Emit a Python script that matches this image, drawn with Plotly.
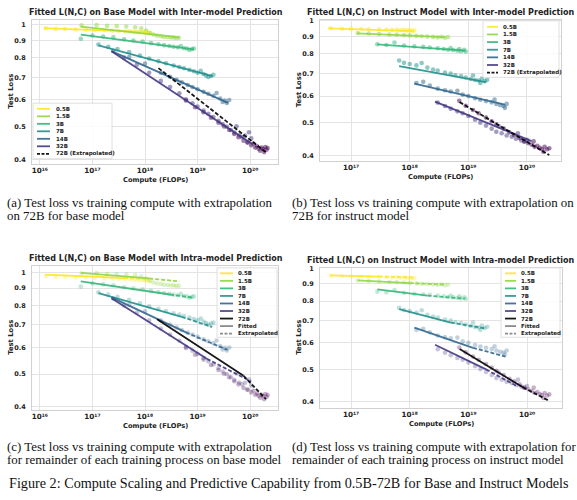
import plotly.graph_objects as go

W, H = 577, 500

models = ["0.5B", "1.5B", "3B", "7B", "14B", "32B", "72B"]
colors = ["#fde725", "#90d743", "#35b779", "#21918c", "#31688e", "#443983", "#440154"]

# ---------------- Base model observations (panels a, c) ----------------
b05_C = [1.3e16, 2.0e16, 3.0e16, 4.8e16, 7.5e16, 1.1e17, 1.7e17, 2.4e17, 3.2e17, 4.2e17, 5.2e17, 6.2e17, 7.2e17, 8.2e17, 9.2e17, 1.02e18, 1.12e18, 1.2e18]
b05_L = [0.976, 0.972, 0.973, 0.969, 0.968, 0.965, 0.964, 0.961, 0.959, 0.956, 0.957, 0.953, 0.954, 0.951, 0.952, 0.948, 0.950, 0.946]
b15_C = [6.2e16, 1.2e17, 1.9e17, 2.9e17, 4.4e17, 6.5e17, 8.5e17, 1.05e18, 1.25e18, 1.45e18, 1.7e18, 2.0e18, 2.3e18, 2.7e18, 3.1e18, 3.5e18, 3.9e18, 4.4e18]
b15_L = [0.996, 0.998, 0.993, 0.991, 0.989, 0.984, 0.976, 0.962, 0.946, 0.936, 0.929, 0.926, 0.921, 0.920, 0.917, 0.918, 0.914, 0.916]
b3_C = [6.0e16, 1.0e17, 1.6e17, 2.5e17, 4.0e17, 6.0e17, 9.0e17, 1.3e18, 1.8e18, 2.3e18, 2.9e18, 3.5e18, 4.2e18, 4.8e18, 5.5e18, 6.3e18, 7.0e18, 7.8e18, 8.5e18]
b3_L = [0.910, 0.930, 0.924, 0.918, 0.906, 0.899, 0.893, 0.884, 0.876, 0.871, 0.866, 0.861, 0.858, 0.866, 0.853, 0.851, 0.843, 0.848, 0.851]
b7_C = [1.3e17, 2.0e17, 3.0e17, 5.0e17, 8.0e17, 1.2e18, 1.8e18, 2.5e18, 3.5e18, 4.5e18, 5.5e18, 7.0e18, 8.5e18, 1.0e19, 1.15e19, 1.3e19, 1.45e19, 1.6e19, 1.8e19, 2.0e19]
b7_L = [0.875, 0.861, 0.848, 0.831, 0.812, 0.795, 0.781, 0.770, 0.758, 0.751, 0.744, 0.736, 0.729, 0.722, 0.731, 0.716, 0.709, 0.701, 0.706, 0.712]
b14_C = [2.5e17, 5.0e17, 1.0e18, 2.0e18, 3.0e18, 4.0e18, 5.0e18, 6.5e18, 8.0e18, 1.0e19, 1.3e19, 1.6e19, 2.0e19, 2.3e19, 2.7e19, 3.0e19, 3.3e19, 3.6e19, 4.0e19]
b14_L = [0.838, 0.803, 0.768, 0.722, 0.702, 0.688, 0.676, 0.664, 0.655, 0.645, 0.634, 0.626, 0.617, 0.629, 0.606, 0.592, 0.598, 0.588, 0.600]
b32_C = [4.0e17, 7.0e17, 1.2e18, 2.0e18, 3.0e18, 4.5e18, 6.0e18, 8.0e18, 1.0e19, 1.3e19, 1.6e19, 2.0e19, 2.5e19, 3.0e19, 3.6e19, 4.3e19, 5.0e19, 5.5e19, 6.2e19, 7.0e19, 8.0e19, 8.8e19, 9.5e19, 1.05e20]
b32_L = [0.800, 0.762, 0.722, 0.683, 0.655, 0.628, 0.603, 0.587, 0.574, 0.558, 0.546, 0.534, 0.521, 0.509, 0.500, 0.489, 0.481, 0.502, 0.472, 0.466, 0.471, 0.450, 0.482, 0.462]
b72_C = [6.0e18, 9.0e18, 1.3e19, 1.8e19, 2.5e19, 3.2e19, 4.0e19, 5.0e19, 6.0e19, 7.5e19, 9.0e19, 1.05e20, 1.15e20, 1.25e20, 1.35e20, 1.45e20, 1.55e20, 1.65e20, 1.75e20, 1.85e20, 1.95e20, 2.05e20, 2.15e20]
b72_L = [0.598, 0.571, 0.552, 0.532, 0.514, 0.501, 0.489, 0.476, 0.466, 0.455, 0.449, 0.441, 0.446, 0.434, 0.438, 0.431, 0.425, 0.434, 0.430, 0.421, 0.436, 0.428, 0.433]

# ---------------- Instruct model observations (panels b, d) ----------------
i05_C = [4.5e16, 7.0e16, 1.0e17, 1.5e17, 2.0e17, 3.0e17, 4.0e17, 5.0e17, 6.0e17, 7.0e17, 8.0e17, 9.0e17, 1.0e18, 1.1e18, 1.2e18]
i05_L = [0.951, 0.948, 0.947, 0.946, 0.944, 0.945, 0.942, 0.940, 0.943, 0.938, 0.941, 0.936, 0.939, 0.934, 0.937]
i15_C = [1.3e17, 2.0e17, 3.0e17, 4.5e17, 6.0e17, 8.0e17, 1.0e18, 1.3e18, 1.6e18, 2.0e18, 2.5e18, 3.0e18, 3.5e18, 4.0e18, 4.5e18]
i15_L = [0.921, 0.918, 0.915, 0.912, 0.911, 0.908, 0.906, 0.903, 0.901, 0.899, 0.897, 0.894, 0.898, 0.892, 0.896]
i3_C = [2.8e17, 4.0e17, 5.5e17, 8.0e17, 1.2e18, 1.7e18, 2.2e18, 3.0e18, 3.8e18, 4.5e18, 5.0e18, 5.5e18, 6.5e18, 7.0e18, 7.5e18, 8.5e18, 9.0e18]
i3_L = [0.853, 0.849, 0.863, 0.846, 0.841, 0.838, 0.835, 0.830, 0.826, 0.822, 0.831, 0.820, 0.817, 0.826, 0.814, 0.821, 0.812]
i7_C = [6.6e17, 8.0e17, 1.0e18, 1.3e18, 1.6e18, 2.0e18, 2.5e18, 3.0e18, 4.0e18, 5.0e18, 6.0e18, 7.5e18, 9.0e18, 1.1e19, 1.2e19, 1.3e19, 1.5e19, 1.6e19, 1.7e19, 1.9e19, 2.1e19]
i7_L = [0.764, 0.752, 0.746, 0.739, 0.751, 0.728, 0.719, 0.714, 0.704, 0.699, 0.691, 0.687, 0.681, 0.674, 0.690, 0.669, 0.667, 0.656, 0.676, 0.664, 0.670]
i14_C = [1.3e18, 1.7e18, 2.2e18, 3.0e18, 4.0e18, 5.0e18, 6.5e18, 8.0e18, 1.0e19, 1.3e19, 1.6e19, 2.0e19, 2.5e19, 2.8e19, 3.0e19, 3.5e19, 4.0e19, 4.2e19, 4.5e19]
i14_L = [0.656, 0.661, 0.645, 0.631, 0.624, 0.619, 0.622, 0.606, 0.600, 0.591, 0.585, 0.580, 0.575, 0.586, 0.569, 0.564, 0.561, 0.554, 0.569]
i32_C = [3.0e18, 4.0e18, 5.0e18, 6.5e18, 8.0e18, 1.0e19, 1.3e19, 1.6e19, 2.0e19, 2.5e19, 3.0e19, 3.3e19, 3.7e19, 4.5e19, 5.5e19, 6.5e19, 7.0e19, 8.0e19, 9.0e19, 1.0e20]
i32_L = [0.574, 0.561, 0.551, 0.541, 0.534, 0.524, 0.511, 0.501, 0.491, 0.481, 0.471, 0.489, 0.466, 0.459, 0.455, 0.449, 0.466, 0.444, 0.441, 0.446]
i72_C = [7.0e18, 9.0e18, 1.2e19, 1.5e19, 2.0e19, 2.5e19, 3.0e19, 4.0e19, 5.0e19, 6.0e19, 7.5e19, 9.0e19, 1.05e20, 1.2e20, 1.3e20, 1.35e20, 1.5e20, 1.65e20, 1.8e20, 1.9e20, 2.0e20, 2.2e20, 2.4e20]
i72_L = [0.581, 0.562, 0.546, 0.534, 0.519, 0.506, 0.495, 0.481, 0.469, 0.461, 0.451, 0.441, 0.436, 0.431, 0.441, 0.425, 0.428, 0.422, 0.419, 0.411, 0.425, 0.418, 0.421]

# ---------------- Fitted lines: inter-model (a, b) ----------------
a_C0 = [1.2e16, 6.0e16, 6.0e16, 1.3e17, 2.3e17, 2.3e17, 1.8e18]
a_L0 = [0.978, 0.988, 0.935, 0.870, 0.836, 0.836, 0.745]
a_C1 = [1.2e18, 4.5e18, 8.5e18, 1.9e19, 3.8e19, 1.1e20, 2.1e20]
a_L1 = [0.952, 0.918, 0.846, 0.705, 0.588, 0.445, 0.418]

b_C0 = [4.1e16, 1.26e17, 2.8e17, 6.6e17, 1.2e18, 2.7e18, 7.1e18]
b_L0 = [0.950, 0.919, 0.853, 0.735, 0.653, 0.578, 0.576]
b_C1 = [1.15e18, 4.0e18, 8.7e18, 2.0e19, 4.2e19, 1.2e20, 2.4e20]
b_L1 = [0.933, 0.895, 0.817, 0.660, 0.566, 0.442, 0.402]

# ---------------- Fitted lines: intra-model (c, d): start, fit end, extrapolation end ----------------
c_C0 = [1.25e16, 6.0e16, 6.0e16, 1.3e17, 2.3e17, 2.3e17, 1.7e18]
c_L0 = [0.988, 1.000, 0.943, 0.870, 0.845, 0.840, 0.728]
c_Cs = [4.0e17, 1.2e18, 3.0e18, 5.0e18, 6.0e18, 1.5e19, 7.5e19]
c_Ls = [0.965, 0.962, 0.862, 0.740, 0.665, 0.555, 0.494]
c_C1 = [1.2e18, 4.5e18, 8.5e18, 1.9e19, 3.7e19, 1.05e20, 2.0e20]
c_L1 = [0.958, 0.943, 0.843, 0.690, 0.590, 0.475, 0.421]

d_C0 = [4.4e16, 1.3e17, 2.8e17, 6.6e17, 1.2e18, 2.7e18, 7.1e18]
d_L0 = [0.954, 0.922, 0.866, 0.757, 0.666, 0.592, 0.575]
d_Cs = [3.0e17, 1.0e18, 2.0e18, 5.0e18, 1.2e19, 2.0e19, 8.5e19]
d_Ls = [0.946, 0.905, 0.830, 0.690, 0.580, 0.500, 0.442]
d_C1 = [1.15e18, 3.8e18, 8.7e18, 2.0e19, 4.3e19, 7.0e19, 2.3e20]
d_L1 = [0.941, 0.896, 0.813, 0.662, 0.546, 0.444, 0.404]

titles = ["Fitted L(N,C) on Base Model with Inter-model Prediction",
          "Fitted L(N,C) on Instruct Model with Inter-model Prediction",
          "Fitted L(N,C) on Base Model with Intra-model Prediction",
          "Fitted L(N,C) on Instruct Model with Intra-model Prediction"]
x_tickvals = [1e16, 1e17, 1e18, 1e19, 1e20]
x_ticktext = ["10¹⁶", "10¹⁷", "10¹⁸", "10¹⁹", "10²⁰"]
y_tickvals = [0.4, 0.5, 0.6, 0.7, 0.8, 0.9, 1.0]
y_ticktext = ["0.4", "0.5", "0.6", "0.7", "0.8", "0.9", "1"]
captions = [["(a) Test loss vs training compute with extrapolation", "on 72B for base model"],
            ["(b) Test loss vs training compute with extrapolation on", "72B for instruct model"],
            ["(c) Test loss vs training compute with extrapolation", "for remainder of each training process on base model"],
            ["(d) Test loss vs training compute with extrapolation for", "remainder of each training process on instruct model"]]
fig_caption = "Figure 2: Compute Scaling and Predictive Capability from 0.5B-72B for Base and Instruct Models"

base_C = [b05_C, b15_C, b3_C, b7_C, b14_C, b32_C, b72_C]
base_L = [b05_L, b15_L, b3_L, b7_L, b14_L, b32_L, b72_L]
inst_C = [i05_C, i15_C, i3_C, i7_C, i14_C, i32_C, i72_C]
inst_L = [i05_L, i15_L, i3_L, i7_L, i14_L, i32_L, i72_L]

SANS = "DejaVu Sans"
SERIF = "Liberation Serif"
DARK = "#222222"
GRID = "#e4e4e4"
EDGE = "#d0d0d0"

def fx(p):
    return p / W

def fy(p):
    return 1 - p / H

# panel geometry in pixels
panels = [
    dict(xd=(32, 278), yd=(17, 162), xr=(15.85, 20.53), yr=(-0.410, 0.0146), tc=155.5),
    dict(xd=(320, 561), yd=(17, 159), xr=(16.47, 20.58), yr=(-0.4125, 0.003), tc=440.5),
    dict(xd=(32, 278), yd=(265, 410), xr=(15.85, 20.53), yr=(-0.407, 0.0206), tc=155.5),
    dict(xd=(320, 562), yd=(267, 408), xr=(16.47, 20.596), yr=(-0.4155, 0.002), tc=440.5),
]

fig = go.Figure()

def axn(k):
    return "" if k == 0 else str(k + 1)

# scatter clouds
for k, (Cs, Ls, op) in enumerate([(base_C, base_L, 0.5), (inst_C, inst_L, 0.5),
                                  (base_C, base_L, 0.3), (inst_C, inst_L, 0.3)]):
    s = axn(k)
    for i in range(7):
        fig.add_trace(go.Scatter(x=Cs[i], y=Ls[i], mode="markers",
                                 marker=dict(size=4.6, color=colors[i], opacity=op, line=dict(width=0)),
                                 xaxis="x" + s, yaxis="y" + s, showlegend=False, hoverinfo="skip"))

# inter-model fitted lines
for k, (C0, L0, C1, L1) in enumerate([(a_C0, a_L0, a_C1, a_L1), (b_C0, b_L0, b_C1, b_L1)]):
    s = axn(k)
    for i in range(7):
        if i < 6:
            ln = dict(color=colors[i], width=1.8)
        else:
            ln = dict(color="#000000", width=1.8, dash="4px,2px")
        fig.add_trace(go.Scatter(x=[C0[i], C1[i]], y=[L0[i], L1[i]], mode="lines", line=ln,
                                 opacity=0.9, xaxis="x" + s, yaxis="y" + s, showlegend=False, hoverinfo="skip"))

# intra-model fitted (solid) + extrapolated (dashed)
for k, (C0, L0, Cs_, Ls_, C1, L1) in [(2, (c_C0, c_L0, c_Cs, c_Ls, c_C1, c_L1)), (3, (d_C0, d_L0, d_Cs, d_Ls, d_C1, d_L1))]:
    s = axn(k)
    for i in range(7):
        col = colors[i] if i < 6 else "#000000"
        fig.add_trace(go.Scatter(x=[C0[i], Cs_[i]], y=[L0[i], Ls_[i]], mode="lines",
                                 line=dict(color=col, width=1.8), opacity=0.9,
                                 xaxis="x" + s, yaxis="y" + s, showlegend=False, hoverinfo="skip"))
        fig.add_trace(go.Scatter(x=[Cs_[i], C1[i]], y=[Ls_[i], L1[i]], mode="lines",
                                 line=dict(color=col, width=1.8, dash="4px,2px"), opacity=0.9,
                                 xaxis="x" + s, yaxis="y" + s, showlegend=False, hoverinfo="skip"))

layout = dict(width=W, height=H, autosize=False, margin=dict(l=0, r=0, t=0, b=0),
              paper_bgcolor="white", plot_bgcolor="white", showlegend=False)

annotations = []
shapes = []

for k, p in enumerate(panels):
    s = axn(k)
    layout["xaxis" + s] = dict(type="log", domain=[fx(p["xd"][0]), fx(p["xd"][1])], range=list(p["xr"]),
                               anchor="y" + s, tickvals=x_tickvals, ticktext=x_ticktext,
                               showgrid=True, gridcolor=GRID, gridwidth=1, zeroline=False,
                               showline=True, mirror=True, linecolor=EDGE, linewidth=1, ticks="",
                               ticklabelstandoff=0,
                               tickfont=dict(family=SANS, size=7.2, color=DARK, weight="bold"))
    layout["yaxis" + s] = dict(type="log", domain=[fy(p["yd"][1]), fy(p["yd"][0])], range=list(p["yr"]),
                               anchor="x" + s, tickvals=y_tickvals, ticktext=y_ticktext,
                               showgrid=True, gridcolor=GRID, gridwidth=1, zeroline=False,
                               showline=True, mirror=True, linecolor=EDGE, linewidth=1, ticks="",
                               ticklabelstandoff=4,
                               tickfont=dict(family=SANS, size=6.5, color=DARK, weight="bold"))
    xc = (p["xd"][0] + p["xd"][1]) / 2
    yc = (p["yd"][0] + p["yd"][1]) / 2
    # title
    annotations.append(dict(text="<b>" + titles[k] + "</b>", x=fx(p["tc"]), y=fy(p["yd"][0] - 7), xref="paper", yref="paper",
                            xanchor="center", yanchor="middle", showarrow=False,
                            font=dict(family=SANS, size=8.0, color=DARK)))
    # x-axis title
    annotations.append(dict(text="<b>Compute (FLOPs)</b>", x=fx(xc), y=fy(p["yd"][1] + 16), xref="paper", yref="paper",
                            xanchor="center", yanchor="middle", showarrow=False,
                            font=dict(family=SANS, size=6.7, color=DARK)))
    # y-axis title
    annotations.append(dict(text="<b>Test Loss</b>", x=fx(p["xd"][0] - 21), y=fy(yc), xref="paper", yref="paper",
                            xanchor="center", yanchor="middle", showarrow=False, textangle=-90,
                            font=dict(family=SANS, size=6.8, color=DARK)))

# captions
cap_pos = [(5, 202, 215), (290, 202, 215), (5, 448, 461), (290, 448, 461)]
for k, (cx, y1, y2) in enumerate(cap_pos):
    for txt, yy in zip(captions[k], (y1, y2)):
        annotations.append(dict(text=txt, x=fx(cx), y=fy(yy), xref="paper", yref="paper",
                                xanchor="left", yanchor="middle", showarrow=False,
                                font=dict(family=SERIF, size=12.9, color="#111111")))
annotations.append(dict(text=fig_caption, x=fx(288.5), y=fy(484), xref="paper", yref="paper",
                        xanchor="center", yanchor="middle", showarrow=False,
                        font=dict(family=SERIF, size=14.2, color="#111111")))

# legends (drawn as boxes with line samples and labels)
inter_labels = models[:6] + ["72B (Extrapolated)"]
inter_styles = [(colors[i], "solid") for i in range(6)] + [("#000000", "dash")]
intra_labels = models + ["Fitted", "Extrapolated"]
intra_styles = [(colors[i], "solid") for i in range(6)] + [("#000000", "solid"), ("#808080", "solid"), ("#808080", "dash")]

legends = [
    dict(box=(33, 101, 112, 157), y0=106.7, step=7.55, lx=(37, 50), tx=53.5, labels=inter_labels, styles=inter_styles),
    dict(box=(483, 18, 559, 75), y0=24.0, step=7.7, lx=(487, 498), tx=500.5, labels=inter_labels, styles=inter_styles),
    dict(box=(217, 267, 277, 337), y0=272.5, step=7.6, lx=(220, 233), tx=235.5, labels=intra_labels, styles=intra_styles),
    dict(box=(501, 267, 560, 337), y0=272.5, step=7.6, lx=(505, 516), tx=518.5, labels=intra_labels, styles=intra_styles),
]
for lg in legends:
    x0, y0, x1, y1 = lg["box"]
    shapes.append(dict(type="rect", xref="paper", yref="paper", x0=fx(x0), x1=fx(x1), y0=fy(y1), y1=fy(y0),
                       line=dict(color="#d8d8d8", width=0.8), fillcolor="rgba(255,255,255,0.85)", layer="above"))
    for j, (lab, (col, dash)) in enumerate(zip(lg["labels"], lg["styles"])):
        yy = lg["y0"] + j * lg["step"]
        shapes.append(dict(type="line", xref="paper", yref="paper", x0=fx(lg["lx"][0]), x1=fx(lg["lx"][1]),
                           y0=fy(yy), y1=fy(yy), layer="above", opacity=0.9,
                           line=dict(color=col, width=1.8, dash="3px,1.5px" if dash == "dash" else "solid")))
        annotations.append(dict(text="<b>" + lab + "</b>", x=fx(lg["tx"]), y=fy(yy), xref="paper", yref="paper",
                                xanchor="left", yanchor="middle", showarrow=False,
                                font=dict(family=SANS, size=5.5, color=DARK)))

layout["annotations"] = annotations
layout["shapes"] = shapes
fig.update_layout(**layout)
fig.write_html("out.html")
